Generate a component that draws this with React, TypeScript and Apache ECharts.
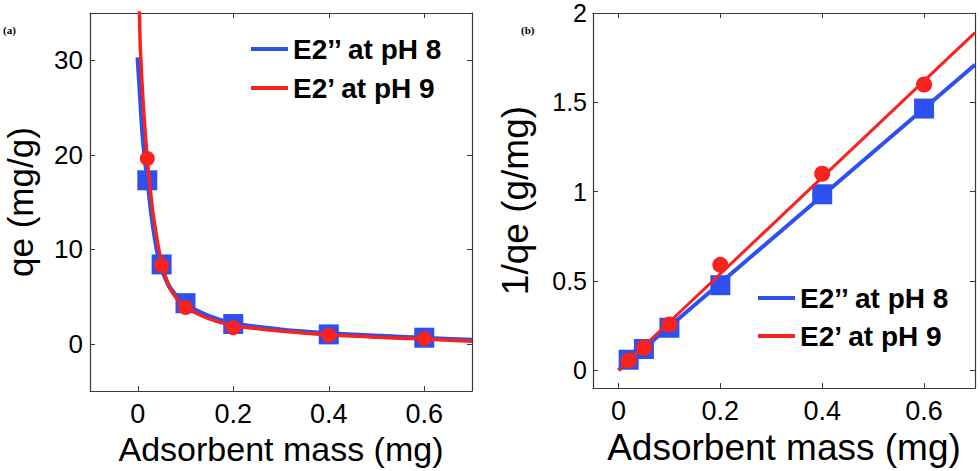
import React, { useEffect, useRef } from "react";
import * as echarts from "echarts";

const BLUE_NAME = "E2\u2019\u2019 at pH 8";
const RED_NAME = "E2\u2019 at pH 9";
const BLUE = "#2d50ee";
const RED = "#f8221e";
const FONT = "'Liberation Sans', Arial, Helvetica, sans-serif";

// Panel (a): qe vs adsorbent mass
const massPoints = [0.02, 0.05, 0.1, 0.2, 0.4, 0.6];
const qeBlue = [17.3, 8.4, 4.3, 2.1, 1.0, 0.65];
const qeRed = [19.6, 8.3, 3.85, 1.7, 0.92, 0.56];
const qeFitBlue: [number, number][] = [
  [0, 30.3], [0.0056, 25.8], [0.01, 22.3], [0.015, 19.6], [0.02, 17.6], [0.029, 13.6],
  [0.04, 10.0], [0.05, 8.0], [0.068, 5.9], [0.1, 4.2], [0.15, 2.9], [0.2, 2.15],
  [0.3, 1.5], [0.4, 1.1], [0.5, 0.85], [0.6, 0.62], [0.7, 0.4],
];
const qeFitRed: [number, number][] = [
  [0.003, 36], [0.0055, 31.2], [0.011, 25.8], [0.02, 19.6], [0.03, 14.6], [0.04, 11.2],
  [0.05, 8.6], [0.068, 5.8], [0.1, 3.9], [0.147, 2.7], [0.2, 1.95], [0.3, 1.35],
  [0.4, 0.95], [0.5, 0.7], [0.6, 0.5], [0.7, 0.28],
];

// Panel (b): 1/qe vs adsorbent mass
const invBlue = [0.059, 0.119, 0.238, 0.476, 0.985, 1.465];
const invRed = [0.055, 0.125, 0.256, 0.59, 1.1, 1.6];
const invFitBlue: [number, number][] = [[0, 0], [0.7, 1.71]];
const invFitRed: [number, number][] = [[0, 0], [0.7, 1.89]];

// Ticks
const xTicks = [0, 0.2, 0.4, 0.6];
const qeTicks = [0, 10, 20, 30];
const invTicks = [0, 0.5, 1, 1.5, 2];

const AXIS_COLOR = "#3a3a3a";

function pairs(xs: number[], ys: number[]) {
  return xs.map((x, i) => [x, ys[i]]);
}

function mkAxis(opts: any) {
  const { grid, min, max, ticks, position, labels, fontSize, margin, name, nameSize, nameGap } = opts;
  return {
    type: "value",
    gridIndex: grid,
    min,
    max,
    position,
    name: labels ? name : undefined,
    nameLocation: "middle",
    nameGap,
    nameTextStyle: { fontFamily: FONT, fontSize: nameSize, color: "#000" },
    axisLine: { show: true, onZero: false, lineStyle: { color: AXIS_COLOR, width: 1.2 } },
    axisTick: { show: true, inside: true, length: 5, customValues: ticks, lineStyle: { color: AXIS_COLOR, width: 1 } },
    axisLabel: {
      show: labels,
      customValues: ticks,
      fontFamily: FONT,
      fontSize,
      color: "#000",
      margin,
    },
    splitLine: { show: false },
  };
}

export default function App() {
  const ref = useRef<HTMLDivElement>(null);
  useEffect(() => {
    if (!ref.current) return;
    const chart = echarts.init(ref.current, undefined, { renderer: "svg" });
    const legendBase = {
      orient: "vertical",
      itemWidth: 37,
      itemHeight: 4,
      icon: "rect",
      padding: 0,
      selectedMode: false,
      textStyle: { fontFamily: FONT, fontSize: 28, fontWeight: "bold", color: "#000" },
      data: [
        { name: BLUE_NAME, itemStyle: { color: BLUE } },
        { name: RED_NAME, itemStyle: { color: RED } },
      ],
    };
    chart.setOption({
      animation: false,
      backgroundColor: "#fff",
      grid: [
        { left: 90, top: 13, width: 382, height: 381, containLabel: false },
        { left: 593, top: 13, width: 382, height: 381, containLabel: false },
      ],
      xAxis: [
        mkAxis({ grid: 0, min: -0.1, max: 0.7, ticks: xTicks, position: "bottom", labels: true, fontSize: 27, margin: 9, name: "Adsorbent mass (mg)", nameSize: 34, nameGap: 28 }),
        mkAxis({ grid: 0, min: -0.1, max: 0.7, ticks: xTicks, position: "top", labels: false }),
        mkAxis({ grid: 1, min: -0.05, max: 0.7, ticks: xTicks, position: "bottom", labels: true, fontSize: 27, margin: 9, name: "Adsorbent mass (mg)", nameSize: 37, nameGap: 27 }),
        mkAxis({ grid: 1, min: -0.05, max: 0.7, ticks: xTicks, position: "top", labels: false }),
      ],
      yAxis: [
        mkAxis({ grid: 0, min: -5, max: 35, ticks: qeTicks, position: "left", labels: true, fontSize: 26, margin: 7, name: "qe (mg/g)", nameSize: 35, nameGap: 52 }),
        mkAxis({ grid: 0, min: -5, max: 35, ticks: qeTicks, position: "right", labels: false }),
        mkAxis({ grid: 1, min: -0.1, max: 2, ticks: invTicks, position: "left", labels: true, fontSize: 25, margin: 6, name: "1/qe (g/mg)", nameSize: 37, nameGap: 59 }),
        mkAxis({ grid: 1, min: -0.1, max: 2, ticks: invTicks, position: "right", labels: false }),
      ],
      legend: [
        { ...legendBase, left: 251, top: 35, itemGap: 11 },
        { ...legendBase, left: 758, top: 284, itemGap: 10 },
      ],
      graphic: [
        { type: "text", left: 3, top: 24, style: { text: "(a)", font: "bold 11px 'Liberation Serif', serif", fill: "#000" } },
        { type: "text", left: 521, top: 24, style: { text: "(b)", font: "bold 11px 'Liberation Serif', serif", fill: "#000" } },
      ],
      series: [
        // Panel (a)
        { name: BLUE_NAME, type: "scatter", xAxisIndex: 0, yAxisIndex: 0, symbol: "rect", symbolSize: 20, itemStyle: { color: BLUE, opacity: 1 }, data: pairs(massPoints, qeBlue), z: 2 },
        { name: BLUE_NAME, type: "line", xAxisIndex: 0, yAxisIndex: 0, symbol: "none", smooth: 0.3, lineStyle: { color: BLUE, width: 4.5 }, itemStyle: { color: BLUE }, data: qeFitBlue, z: 3 },
        { name: RED_NAME, type: "line", xAxisIndex: 0, yAxisIndex: 0, symbol: "none", smooth: 0.3, lineStyle: { color: RED, width: 3.5 }, itemStyle: { color: RED }, data: qeFitRed, z: 4 },
        { name: RED_NAME, type: "scatter", xAxisIndex: 0, yAxisIndex: 0, symbol: "circle", symbolSize: 15, itemStyle: { color: RED, opacity: 1 }, data: pairs(massPoints, qeRed), z: 5 },
        // Panel (b)
        { name: BLUE_NAME, type: "scatter", xAxisIndex: 2, yAxisIndex: 2, symbol: "rect", symbolSize: 20, itemStyle: { color: BLUE, opacity: 1 }, data: pairs(massPoints, invBlue), z: 2 },
        { name: BLUE_NAME, type: "line", xAxisIndex: 2, yAxisIndex: 2, symbol: "none", lineStyle: { color: BLUE, width: 4 }, itemStyle: { color: BLUE }, data: invFitBlue, z: 3 },
        { name: RED_NAME, type: "line", xAxisIndex: 2, yAxisIndex: 2, symbol: "none", lineStyle: { color: RED, width: 3 }, itemStyle: { color: RED }, data: invFitRed, z: 4 },
        { name: RED_NAME, type: "scatter", xAxisIndex: 2, yAxisIndex: 2, symbol: "circle", symbolSize: 16, itemStyle: { color: RED, opacity: 1 }, data: pairs(massPoints, invRed), z: 5 },
      ],
    });
    return () => chart.dispose();
  }, []);
  return (
    <div
      ref={ref}
      style={{ position: "fixed", left: 0, top: 0, width: 980, height: 471, background: "#fff" }}
    />
  );
}
